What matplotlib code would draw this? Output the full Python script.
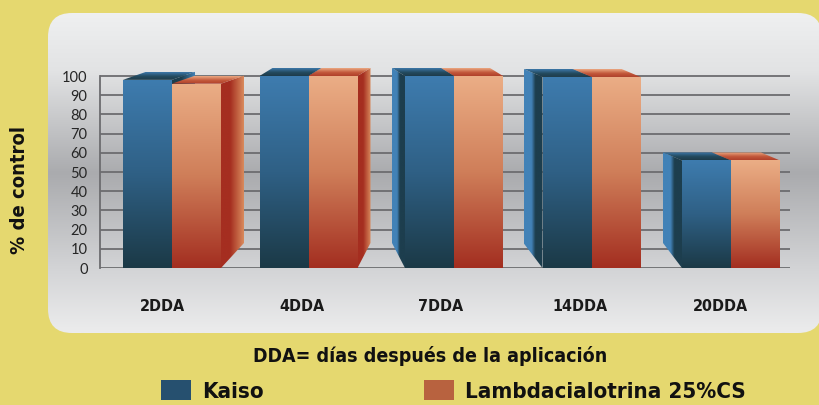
import numpy as np
import matplotlib
matplotlib.use("Agg")
import matplotlib.pyplot as plt
from matplotlib.patches import Polygon, FancyBboxPatch, Patch
from matplotlib.colors import LinearSegmentedColormap

# ---------------- data ----------------
categories = ["2DDA", "4DDA", "7DDA", "14DDA", "20DDA"]
kaiso = [98, 100, 100, 99.5, 56]
lambdac = [96, 100, 100, 99.5, 56]
series_names = ["Kaiso", "Lambdacialotrina 25%CS"]
yticks = list(range(0, 101, 10))
ylabel = "% de control"
note = "DDA= días después de la aplicación"

# ---------------- style ----------------
W, H = 819, 405
BOLD = dict(family="DejaVu Sans", weight="bold", stretch="condensed")
LIGHT = dict(family=["Lato", "DejaVu Sans"], weight="normal")
depth_px = [23, 13, -13, -19, -19]       # horizontal depth offset per group
bar_shift_px = [10, 7, 13, 11, 11]        # front-face offset from label centre
top_dy_px, bot_dy_px = 8, 25              # vertical depth offsets

fig = plt.figure(figsize=(W / 100, H / 100), dpi=100)
fig.patch.set_facecolor("#E5D86F")

# background rounded panel with gradient
bg = fig.add_axes([0, 0, 1, 1])
bg.set_xlim(0, W)
bg.set_ylim(H, 0)
bg.axis("off")
panel = FancyBboxPatch((48, 13), 774, 320, boxstyle="round,pad=0,rounding_size=24",
                       facecolor="none", edgecolor="none", transform=bg.transData)
pcmap = LinearSegmentedColormap.from_list(
    "panel", [(0, "#EFF0F1"), (0.18, "#E2E3E4"), (0.5, "#AAABAE"), (0.8, "#D3D4D6"), (1, "#ECECED")])
im = bg.imshow(np.linspace(0, 1, 256).reshape(-1, 1), cmap=pcmap, extent=(48, 822, 333, 13),
               aspect="auto", interpolation="bilinear")
im.set_clip_path(panel)

# main axes
ppx = 139.5
x0px = 162
axl, axr, axb = 100, 790, 268
ppy = (268 - 76) / 100
ytop = 112
ax = fig.add_axes([axl / W, (H - axb) / H, (axr - axl) / W, ytop * ppy / H])
ax.patch.set_alpha(0)


def grad_poly(verts, colors, direction, z):
    poly = Polygon(verts, closed=True, facecolor="none", edgecolor="none", transform=ax.transData)
    xs = [v[0] for v in verts]
    ys = [v[1] for v in verts]
    cm = LinearSegmentedColormap.from_list("g", colors)
    if direction == "v":
        arr = np.linspace(0, 1, 256).reshape(-1, 1)
    else:
        arr = np.linspace(0, 1, 256).reshape(1, -1)
    img = ax.imshow(arr, cmap=cm, extent=(min(xs), max(xs), min(ys), max(ys)), origin="lower",
                    aspect="auto", interpolation="bilinear", zorder=z)
    img.set_clip_path(poly)


K_FRONT = [(0, "#1B3946"), (0.5, "#2F6085"), (1, "#3E7CAF")]
L_FRONT = [(0, "#A32E20"), (0.5, "#CF7E59"), (1, "#EBAE86")]
K_TOP = [(0, "#1E3B4A"), (0.45, "#234A5E"), (1, "#3D78AA")]
L_TOP = [(0, "#B0402A"), (0.45, "#C2583A"), (1, "#EBA983")]
K_SIDE_OUT, K_SIDE_IN = "#4282B7", "#1D3E4E"
L_SIDE_OUT, L_SIDE_IN = "#D98B5D", "#A52E20"

bw = 49 / ppx
dt = top_dy_px / ppy
db = bot_dy_px / ppy


def draw_bar(a, b, v, dx, front, top, side_in, side_out, z):
    if dx > 0:
        side = [(b, 0), (b, v), (b + dx, v + dt), (b + dx, db)]
        grad_poly(side, [(0, side_in), (0.4, side_in), (1, side_out)], "h", z)
    else:
        side = [(a + dx, db), (a + dx, v + dt), (a, v), (a, 0)]
        grad_poly(side, [(0, side_out), (0.4, side_out), (0.6, side_in), (1, side_in)], "h", z)
    grad_poly([(a, v), (b, v), (b + dx, v + dt), (a + dx, v + dt)], top, "v", z + 0.1)
    grad_poly([(a, 0), (b, 0), (b, v), (a, v)], front, "v", z + 0.2)


for i, cat in enumerate(categories):
    cx = i + bar_shift_px[i] / ppx
    dx = depth_px[i] / ppx
    kbar = (cx - bw, cx, kaiso[i], dx, K_FRONT, K_TOP, K_SIDE_IN, K_SIDE_OUT)
    lbar = (cx, cx + bw, lambdac[i], dx, L_FRONT, L_TOP, L_SIDE_IN, L_SIDE_OUT)
    if dx > 0:
        draw_bar(*kbar, z=3)
        draw_bar(*lbar, z=4)
    else:
        draw_bar(*lbar, z=3)
        draw_bar(*kbar, z=4)

ax.set_xlim((axl - x0px) / ppx, (axr - x0px) / ppx)
ax.set_ylim(0, ytop)
ax.set_yticks(yticks)
ax.set_yticklabels([str(t) for t in yticks], fontsize=10.5, color="#262626", **LIGHT)
ax.set_xticks(range(len(categories)))
ax.set_xticklabels(categories, fontsize=11.5, color="#1A1A1A", **BOLD)
ax.tick_params(axis="both", length=0)
ax.tick_params(axis="y", pad=9)
ax.tick_params(axis="x", pad=22)
ax.yaxis.grid(True, color="#6C6C6F", lw=1.3, zorder=1)
ax.set_axisbelow(True)
for s in ["top", "right", "bottom"]:
    ax.spines[s].set_visible(False)
ax.spines["left"].set_bounds(0, 100)
ax.spines["left"].set_color("#6C6C6F")
ax.spines["left"].set_linewidth(1.3)

fig.text(20 / W, 1 - 190 / H, ylabel, rotation=90, ha="center", va="center",
         fontsize=14.5, color="#111111", **BOLD)
fig.text(430 / W, 1 - 356 / H, note, ha="center", va="center", fontsize=14,
         color="#111111", **BOLD)

handles = [Patch(facecolor="#26506F", edgecolor="none"), Patch(facecolor="#B8623F", edgecolor="none")]
leg = fig.legend(handles, series_names, ncol=2, loc="center left",
                 bbox_to_anchor=(161 / W, 1 - 391 / H), frameon=False,
                 handlelength=1.35, handleheight=0.95, handletextpad=0.5,
                 columnspacing=7.2, borderpad=0, borderaxespad=0,
                 prop=dict(size=16, **BOLD))
for t in leg.get_texts():
    t.set_color("#111111")

fig.savefig("out.png", dpi=100, facecolor=fig.get_facecolor())
